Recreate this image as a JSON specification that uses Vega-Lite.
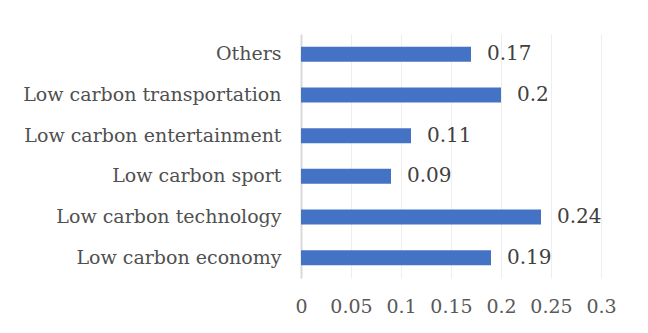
{
  "$schema": "https://vega.github.io/schema/vega-lite/v6.json",
  "width": 300,
  "height": 244,
  "autosize": {"type": "none"},
  "padding": {"left": 301, "top": 34, "right": 47, "bottom": 55},
  "background": "white",
  "config": {
    "view": {"stroke": null},
    "font": "DejaVu Serif"
  },
  "data": {
    "values": [
      {"category": "Others", "value": 0.17},
      {"category": "Low carbon transportation", "value": 0.2},
      {"category": "Low carbon entertainment", "value": 0.11},
      {"category": "Low carbon sport", "value": 0.09},
      {"category": "Low carbon technology", "value": 0.24},
      {"category": "Low carbon economy", "value": 0.19}
    ]
  },
  "encoding": {
    "y": {
      "field": "category",
      "type": "nominal",
      "sort": null,
      "scale": {"paddingInner": 0.63, "paddingOuter": 0.315},
      "axis": {
        "title": null,
        "ticks": false,
        "labelFont": "DejaVu Serif",
        "labelFontSize": 19,
        "labelColor": "#505050",
        "labelPadding": 20,
        "domainColor": "#d9d9d9",
        "domainWidth": 2,
        "labelLimit": 400
      }
    },
    "x": {
      "field": "value",
      "type": "quantitative",
      "scale": {"domain": [0, 0.3], "nice": false},
      "axis": {
        "title": null,
        "values": [0, 0.05, 0.1, 0.15, 0.2, 0.25, 0.3],
        "format": "~g",
        "ticks": false,
        "domain": false,
        "grid": true,
        "gridColor": "#eeeeee",
        "gridWidth": 1,
        "labelFont": "DejaVu Serif",
        "labelFontSize": 19,
        "labelColor": "#595959",
        "labelPadding": 19,
        "labelFlush": false
      }
    }
  },
  "layer": [
    {"mark": {"type": "bar", "color": "#4472C4"}},
    {
      "mark": {
        "type": "text",
        "align": "left",
        "baseline": "middle",
        "dx": 16,
        "fontSize": 20,
        "color": "#404040",
        "font": "DejaVu Serif"
      },
      "encoding": {"text": {"field": "value", "type": "quantitative", "format": "~g"}}
    }
  ]
}
